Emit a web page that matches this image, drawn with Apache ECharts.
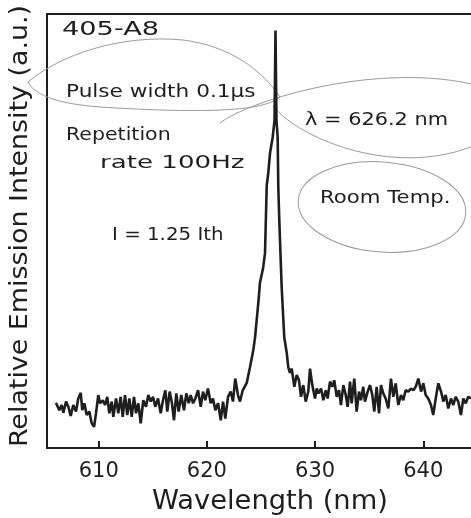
<!DOCTYPE html>
<html><head><meta charset="utf-8">
<script src="https://cdn.jsdelivr.net/npm/echarts@6/dist/echarts.min.js"></script>
<style>html,body{margin:0;padding:0;background:#fff}#c{width:471px;height:518px}</style>
</head><body><div id="c"></div>
<script>
// Wavelength (nm)
var wavelength = [
606.05,606.36,606.58,606.73,606.98,607.19,607.41,607.65,607.90,608.11,608.34,608.48,608.67,608.89,609.13,609.35,609.57,609.75,609.96,610.12,
610.37,610.58,610.79,610.98,611.20,611.35,611.60,611.81,612.03,612.22,612.43,612.64,612.83,613.05,613.26,613.45,613.66,613.88,614.12,614.37,
614.58,614.81,615.02,615.23,615.48,615.73,615.94,616.16,616.34,616.56,616.77,616.96,617.17,617.39,617.63,617.88,618.10,618.32,618.50,618.72,
618.93,619.18,619.43,619.64,619.85,620.10,620.35,620.56,620.78,621.03,621.28,621.49,621.70,621.95,622.20,622.41,622.62,622.87,623.06,623.31,
623.68,623.98,624.29,624.45,624.75,624.91,625.19,625.37,625.53,625.67,625.83,626.08,626.25,626.34,626.43,626.54,626.60,626.69,626.91,627.15,
627.38,627.52,627.68,627.84,628.08,628.30,628.51,628.70,628.91,629.13,629.37,629.53,629.74,629.99,630.15,630.30,630.55,630.76,630.98,631.16,
631.38,631.59,631.77,632.00,632.21,632.39,632.61,632.83,633.01,633.23,633.38,633.62,633.84,634.06,634.24,634.45,634.61,634.86,635.07,635.29,
635.47,635.69,635.91,636.09,636.30,636.52,636.77,637.01,637.23,637.45,637.69,637.94,638.15,638.37,638.61,638.86,639.08,639.30,639.54,639.79,
640.00,640.22,640.46,640.71,640.92,641.15,641.39,641.64,641.85,642.07,642.31,642.56,642.77,642.99,643.23,643.48,643.70,643.92,644.16,644.41
];
// Relative emission intensity (a.u., 0-100 scale)
var intensity = [
10.4,8.7,9.9,8.1,10.7,9.5,7.4,9.9,8.4,11.4,12.7,8.7,10.3,7.6,8.4,5.7,4.9,8.0,12.2,10.3,
11.0,9.9,11.8,8.0,10.7,7.2,11.4,8.0,11.8,7.2,12.2,7.6,11.4,7.2,11.8,8.0,10.3,5.7,11.0,9.5,
12.2,10.7,11.8,9.5,11.4,8.0,11.0,13.3,8.4,13.0,10.3,6.4,12.6,8.4,12.2,8.7,12.6,10.3,12.2,10.3,
11.4,13.3,9.5,13.0,11.0,13.7,10.3,11.4,8.7,10.3,6.4,10.7,6.8,11.8,13.0,10.7,16.0,12.2,10.7,13.3,
15.0,18.6,22.6,25.5,33.4,38.2,41.4,44.9,60.5,63.3,67.9,71.6,75.5,96.2,75.5,71.6,60.1,52.5,37.1,25.5,
21.9,18.6,17.3,18.3,14.1,16.8,15.6,11.8,14.5,10.7,13.0,18.3,14.5,11.4,13.7,12.6,13.7,11.0,13.3,11.4,
15.3,14.1,15.6,11.8,13.3,9.9,14.5,12.2,9.5,15.3,10.3,16.0,8.4,13.0,11.0,14.1,10.7,13.0,14.5,12.2,
8.4,14.1,8.0,14.5,12.6,11.4,9.1,16.0,11.8,14.9,9.9,12.2,11.0,13.3,13.0,13.7,13.3,14.1,16.0,13.0,
14.9,12.2,11.4,9.9,7.6,11.4,14.9,13.0,10.7,12.2,9.1,11.4,9.9,11.8,10.7,7.6,11.4,10.3,11.8,11.4
];
var xTickValues = [610, 620, 630, 640];
var xRange = [605.22, 644.41];
var yRange = [0, 100];
var texts = {
  sample: '405-A8',
  pulse: 'Pulse width 0.1\u03bcs',
  rep1: 'Repetition',
  rep2: 'rate 100Hz',
  current: 'I = 1.25 Ith',
  lambda: '\u03bb = 626.2 nm',
  temp: 'Room Temp.',
  xName: 'Wavelength (nm)',
  yName: 'Relative Emission Intensity (a.u.)'
};

var data = wavelength.map(function (w, i) { return [w, intensity[i]]; });
var FONT = 'DejaVu Sans';
var INK = '#1e1e1e';
var chart = echarts.init(document.getElementById('c'), null, {renderer: 'canvas'});

function txt(s, x, y, size, sx) {
  return {type: 'text', x: x, y: y, z: 10, scaleX: sx || 1,
    style: {text: s, fill: INK, font: size + 'px "' + FONT + '"', textVerticalAlign: 'middle', textAlign: 'left'}};
}
function bez(p) {
  return {type: 'bezierCurve', z: 1, silent: true,
    shape: {x1: p[0], y1: p[1], cpx1: p[2], cpy1: p[3], cpx2: p[4], cpy2: p[5], x2: p[6], y2: p[7]},
    style: {stroke: '#9a9a9a', fill: null, lineWidth: 1}};
}

chart.setOption({
  animation: false,
  backgroundColor: '#fff',
  grid: {left: 47, top: 14, right: 0, bottom: 70, containLabel: false},
  xAxis: [{
    type: 'value', min: xRange[0], max: xRange[1],
    axisLine: {show: true, lineStyle: {color: INK, width: 2}},
    axisTick: {show: true, inside: true, length: 7, lineStyle: {color: INK, width: 2}, customValues: xTickValues},
    axisLabel: {show: true, color: INK, fontSize: 21, fontFamily: FONT, margin: 13, customValues: xTickValues},
    splitLine: {show: false}
  }, {
    type: 'value', position: 'top', min: xRange[0], max: xRange[1],
    axisLine: {show: true, lineStyle: {color: INK, width: 2}},
    axisTick: {show: false}, axisLabel: {show: false}, splitLine: {show: false}
  }],
  yAxis: {
    type: 'value', min: yRange[0], max: yRange[1],
    axisLine: {show: true, lineStyle: {color: INK, width: 2}},
    axisTick: {show: false}, axisLabel: {show: false}, splitLine: {show: false}
  },
  series: [{
    type: 'line', data: data, showSymbol: false, smooth: false,
    lineStyle: {color: INK, width: 2.6}, z: 5
  }],
  graphic: [
    bez([28, 82, 60, 55, 120, 34, 183, 40]),
    bez([183, 40, 230, 46, 262, 70, 280, 97]),
    bez([280, 97, 262, 114, 180, 112, 100, 107]),
    bez([100, 107, 60, 104, 35, 96, 28, 82]),
    bez([220, 123, 250, 100, 380, 60, 480, 86]),
    bez([273, 106, 300, 140, 400, 180, 480, 143]),
    {type: 'ellipse', z: 1, silent: true, shape: {cx: 382, cy: 207, rx: 84, ry: 45}, rotation: -0.08, originX: 382, originY: 207,
      style: {stroke: '#9a9a9a', fill: null, lineWidth: 1}},
    txt(texts.sample, 62, 30, 20, 1.36),
    txt(texts.pulse, 66, 92, 18, 1.2),
    txt(texts.rep1, 66, 135, 18, 1.14),
    txt(texts.rep2, 100, 163, 18, 1.45),
    txt(texts.current, 112, 235, 18, 1.1),
    txt(texts.lambda, 305, 120, 18, 1.16),
    txt(texts.temp, 320, 198, 18, 1.18),
    {type: 'text', x: 270, y: 502, z: 10, scaleX: 1.05, style: {text: texts.xName, fill: INK, font: '26px "' + FONT + '"', textAlign: 'center', textVerticalAlign: 'middle'}},
    {type: 'text', x: 21, y: 226, rotation: Math.PI / 2, scaleX: 1.12, z: 10, style: {text: texts.yName, fill: INK, font: '24px "' + FONT + '"', textAlign: 'center', textVerticalAlign: 'middle'}}
  ]
});
</script></body></html>
